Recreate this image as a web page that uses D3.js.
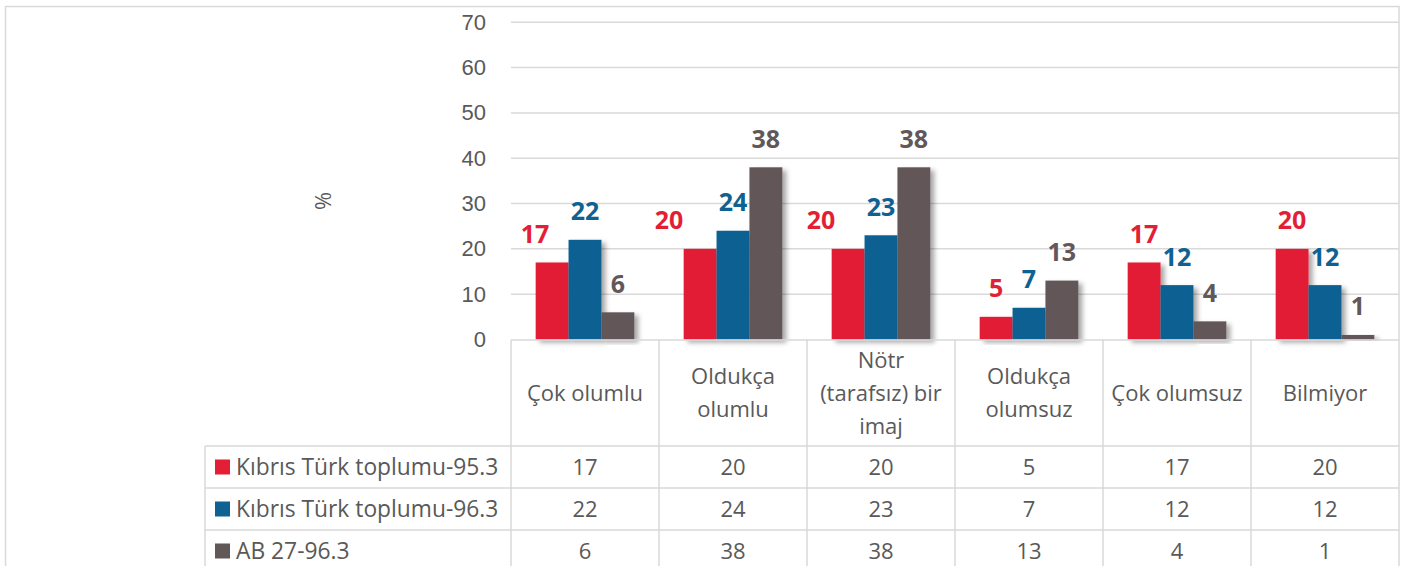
<!DOCTYPE html>
<html>
<head>
<meta charset="utf-8">
<script src="https://cdn.jsdelivr.net/npm/d3@7"></script>
<style>
  body { margin: 0; background: #fff; }
  svg { display: block; font-family: "Open Sans", sans-serif; }
  .tick text, .cell, .cat { fill: #595959; font-size: 22px; }
  .legend { fill: #595959; font-size: 22.8px; }
  .lbl { font-size: 25px; font-weight: bold; }
  .grid, .tbl { stroke: #d9d9d9; stroke-width: 1.5; }
</style>
</head>
<body>
<svg id="chart" width="1416" height="566"></svg>
<script>
// veriler
var categories = ["Çok olumlu", "Oldukça\nolumlu", "Nötr\n(tarafsız) bir\nimaj", "Oldukça\nolumsuz", "Çok olumsuz", "Bilmiyor"];
var seriesNames = ["Kıbrıs Türk toplumu-95.3", "Kıbrıs Türk toplumu-96.3", "AB 27-96.3"];
var kt953 = [17, 20, 20, 5, 17, 20];
var kt963 = [22, 24, 23, 7, 12, 12];
var ab27 = [6, 38, 38, 13, 4, 1];
var yTicks = [0, 10, 20, 30, 40, 50, 60, 70];
var colors = ["#e31f35", "#0f6192", "#625759"];

var seriesValues = [kt953, kt963, ab27];

// kırmızı etiketler elle sola kaydırılmış (ilk üç grup)
var redLabelShift = [-17, -31, -27, 0, 0, 0];

var plotLeft = 511, plotRight = 1399;
var plotTop = 22.3, plotBottom = 339.5;
var headTop = 340, headBottom = 446, rowH = 42;
var tableLeft = 205;

var svg = d3.select("#chart");

var defs = svg.append("defs");
defs.append("filter")
    .attr("id", "shadow")
    .attr("x", "-20%").attr("y", "-10%")
    .attr("width", "160%").attr("height", "130%")
  .append("feDropShadow")
    .attr("dx", 4).attr("dy", 3)
    .attr("stdDeviation", 2.5)
    .attr("flood-color", "#000")
    .attr("flood-opacity", 0.35);

// dış çerçeve
svg.append("rect")
    .attr("x", 5.5).attr("y", 6.5)
    .attr("width", plotRight - 5.5).attr("height", 620)
    .attr("fill", "none")
    .attr("stroke", "#d9d9d9").attr("stroke-width", 1.5);

var x = d3.scaleBand()
    .domain(categories)
    .range([plotLeft, plotRight]);

var x1 = d3.scaleBand()
    .domain(d3.range(seriesNames.length))
    .range([0, x.bandwidth()])
    .paddingInner(0)
    .paddingOuter(0.75);

var y = d3.scaleLinear()
    .domain([0, 70])
    .range([plotBottom, plotTop]);

// yatay kılavuz çizgileri
svg.append("g")
    .selectAll("line")
    .data(yTicks.filter(function(d){ return d > 0; }))
    .enter()
    .append("line")
    .attr("class", "grid")
    .attr("x1", plotLeft).attr("x2", plotRight)
    .attr("y1", function(d){ return y(d); })
    .attr("y2", function(d){ return y(d); });

var yAxis = d3.axisLeft(y)
    .tickValues(yTicks)
    .tickSize(0)
    .tickPadding(25);

svg.append("g")
    .attr("transform", "translate(" + plotLeft + ",0)")
    .call(yAxis)
    .call(function(g){ g.select(".domain").remove(); })
    .selectAll("text")
    .attr("font-family", null)
    .attr("font-size", null);

// eksen başlığı
svg.append("text")
    .attr("class", "cat")
    .attr("transform", "translate(323,201) rotate(-90)")
    .attr("text-anchor", "middle")
    .attr("dy", "0.35em")
    .text("%");

// sütunlar
var groups = svg.append("g")
    .selectAll("g")
    .data(categories)
    .enter()
    .append("g")
    .attr("transform", function(d){ return "translate(" + x(d) + ",0)"; });

groups.selectAll("rect")
    .data(function(d, i){
      return seriesValues.map(function(vals, s){ return {s: s, v: vals[i]}; });
    })
    .enter()
    .append("rect")
    .attr("x", function(d){ return x1(d.s); })
    .attr("width", x1.bandwidth())
    .attr("y", function(d){ return y(d.v); })
    .attr("height", function(d){ return y(0) - y(d.v); })
    .attr("fill", function(d){ return colors[d.s]; })
    .attr("filter", "url(#shadow)");

// veri etiketleri
groups.selectAll("text.lbl")
    .data(function(d, i){
      return seriesValues.map(function(vals, s){ return {s: s, v: vals[i], c: i}; });
    })
    .enter()
    .append("text")
    .attr("class", "lbl")
    .attr("text-anchor", "middle")
    .attr("x", function(d){
      var shift = d.s === 0 ? redLabelShift[d.c] : 0;
      return x1(d.s) + x1.bandwidth() / 2 + shift;
    })
    .attr("y", function(d){ return y(d.v) - 19.5; })
    .attr("fill", function(d){ return colors[d.s]; })
    .text(function(d){ return d.v; });

// veri tablosu
var tbl = svg.append("g");
var rowTops = seriesNames.map(function(d, i){ return headBottom + i * rowH; });

tbl.append("line").attr("class", "tbl")
    .attr("x1", plotLeft).attr("x2", plotRight)
    .attr("y1", headTop).attr("y2", headTop);

rowTops.forEach(function(t){
  tbl.append("line").attr("class", "tbl")
      .attr("x1", tableLeft).attr("x2", plotRight)
      .attr("y1", t).attr("y2", t);
});

tbl.append("line").attr("class", "tbl")
    .attr("x1", tableLeft).attr("x2", tableLeft)
    .attr("y1", headBottom).attr("y2", 600);

categories.forEach(function(c){
  tbl.append("line").attr("class", "tbl")
      .attr("x1", x(c)).attr("x2", x(c))
      .attr("y1", headTop).attr("y2", 600);
});

// kategori başlıkları
categories.forEach(function(c){
  var lines = c.split("\n");
  var mid = (headTop + headBottom) / 2;
  var lh = 33;
  var t = tbl.append("text")
      .attr("class", "cat")
      .attr("text-anchor", "middle");
  lines.forEach(function(l, k){
    t.append("tspan")
        .attr("x", x(c) + x.bandwidth() / 2)
        .attr("y", mid + (k - (lines.length - 1) / 2) * lh)
        .attr("dy", "0.35em")
        .text(l);
  });
});

// satırlar: lejant + değerler
seriesNames.forEach(function(name, s){
  var cy = rowTops[s] + rowH / 2;
  tbl.append("rect")
      .attr("x", 215).attr("y", cy - 7.5)
      .attr("width", 15).attr("height", 15)
      .attr("fill", colors[s]);
  tbl.append("text")
      .attr("class", "legend")
      .attr("x", 236).attr("y", cy)
      .attr("dy", "0.35em")
      .text(name);
  seriesValues[s].forEach(function(v, i){
    tbl.append("text")
        .attr("class", "cell")
        .attr("text-anchor", "middle")
        .attr("x", x(categories[i]) + x.bandwidth() / 2)
        .attr("y", cy)
        .attr("dy", "0.35em")
        .text(v);
  });
});
</script>
</body>
</html>
